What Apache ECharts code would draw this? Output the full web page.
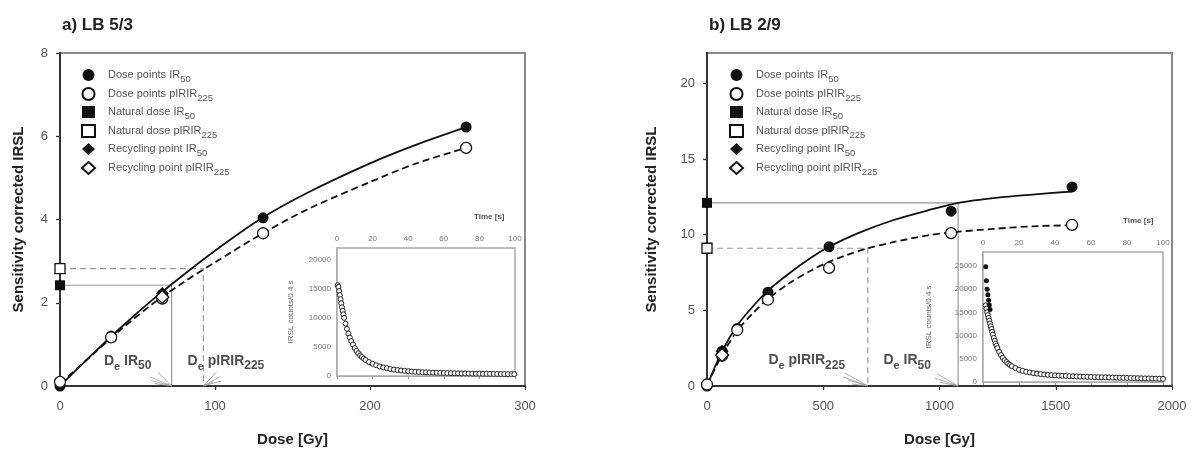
<!DOCTYPE html>
<html>
<head>
<meta charset="utf-8">
<script src="https://cdn.jsdelivr.net/npm/echarts@6/dist/echarts.min.js"></script>
<style>
  html, body { margin: 0; padding: 0; background: #fff; }
  #chart { width: 1197px; height: 453px; }
</style>
</head>
<body>
<div id="chart"></div>
<script>
const FONT = "'Liberation Sans', Arial, sans-serif";

// ---- a) LB 5/3 ----
const aDose = [0, 33, 66, 131, 262];
const aIR50 = [0, 1.2, 2.2, 4.04, 6.22];
const aPIR225 = [0.1, 1.17, 2.1, 3.67, 5.72];
const aNatIR50 = 2.42, aNatPIR225 = 2.82;
const aDeIR50 = 72, aDePIR225 = 92.5;
const aRecDose = 66, aRecIR50 = 2.22, aRecPIR225 = 2.14;
const aFitDose = [0, 20, 40, 60, 80, 100, 130, 160, 200, 230, 262];
const aFitIR50 = [0, 0.73, 1.43, 2.08, 2.68, 3.25, 4.03, 4.65, 5.35, 5.8, 6.22];
const aFitPIR225 = [0.05, 0.72, 1.38, 1.98, 2.5, 2.97, 3.65, 4.25, 4.9, 5.35, 5.72];

// inset a: shine-down curve
const aTime = [0.4, 0.8, 1.2, 1.6, 2.0, 2.4, 2.8, 3.2, 3.6, 4.0, 4.8, 5.6, 6.4, 7.2, 8.0, 9, 10, 11, 12, 13, 14, 15, 16, 18, 20, 22, 24, 26, 28,
  30, 32, 34, 36, 38, 40, 42, 44, 46, 48, 50, 52, 54, 56, 58, 60, 62, 64, 66, 68, 70, 72, 74, 76, 78, 80, 82, 84, 86, 88, 90, 92, 94, 96, 98, 99.6];
const aCounts = [15600, 15300, 14600, 13900, 13200, 12500, 11800, 11200, 10600, 10000, 9000, 8100, 7300, 6600, 6000, 5400, 4800, 4300, 3900, 3550, 3250, 3000, 2750, 2400, 2100, 1850, 1650, 1480, 1350,
  1200, 1100, 1020, 950, 880, 820, 770, 725, 690, 655, 625, 600, 575, 555, 535, 515, 500, 485, 470, 455, 440, 430, 420, 410, 400, 390, 380, 372, 364, 356, 348, 340, 333, 326, 320, 315];

// ---- b) LB 2/9 ----
const bDose = [0, 65, 130, 262, 525, 1050, 1570];
const bIR50 = [0, 2.3, 3.8, 6.2, 9.2, 11.55, 13.15];
const bPIR225 = [0.1, 2.0, 3.7, 5.7, 7.8, 10.1, 10.65];
const bNatIR50 = 12.1, bNatPIR225 = 9.1;
const bDeIR50 = 1080, bDePIR225 = 692;
const bRecDose = 65, bRecIR50 = 2.3, bRecPIR225 = 2.05;
const bFitDose = [0, 65, 130, 200, 262, 350, 450, 525, 650, 800, 950, 1080, 1250, 1400, 1570];
const bFitIR50 = [0, 2.3, 4.0, 5.3, 6.3, 7.4, 8.5, 9.2, 10.1, 10.95, 11.6, 12.1, 12.45, 12.65, 12.85];
const bFitPIR225Dose = [0, 65, 130, 200, 262, 350, 450, 525, 600, 692, 800, 950, 1050, 1250, 1400, 1570];
const bFitPIR225 = [0.05, 2.05, 3.65, 4.85, 5.75, 6.75, 7.65, 8.2, 8.65, 9.1, 9.5, 9.95, 10.15, 10.4, 10.55, 10.62];

// inset b
const bTimeIR50 = [1.5, 1.9, 2.3, 2.7, 3.1, 3.5, 3.9];
const bCountsIR50 = [24800, 21800, 20000, 18800, 17600, 16600, 15600];
const bTime = [1.5, 1.9, 2.3, 2.7, 3.1, 3.5, 3.9, 4.3, 4.7, 5.1, 5.5, 6.0, 6.5, 7.0, 7.5, 8.0, 9, 10, 11, 12, 13, 14, 15, 16, 18, 20, 22, 24, 26, 28,
  30, 32, 34, 36, 38, 40, 42, 44, 46, 48, 50, 52, 54, 56, 58, 60, 62, 64, 66, 68, 70, 72, 74, 76, 78, 80, 82, 84, 86, 88, 90, 92, 94, 96, 98, 100];
const bCounts = [16500, 15800, 15000, 14400, 13800, 13200, 12600, 12000, 11400, 10800, 10200, 9500, 8900, 8300, 7800, 7300, 6500, 5800, 5200, 4700, 4300, 3950, 3650, 3400, 3000, 2650, 2400, 2200, 2050, 1900,
  1800, 1700, 1620, 1550, 1490, 1430, 1380, 1340, 1300, 1260, 1230, 1200, 1170, 1140, 1110, 1090, 1060, 1040, 1020, 1000, 980, 960, 940, 920, 900, 880, 860, 840, 820, 800, 780, 760, 740, 720, 700, 680];

const legendNames = [
  ['Dose points IR', '50'], ['Dose points pIRIR', '225'],
  ['Natural dose IR', '50'], ['Natural dose pIRIR', '225'],
  ['Recycling point IR', '50'], ['Recycling point pIRIR', '225']
];

const zip = (xs, ys) => xs.map((x, i) => [x, ys[i]]);
const plain = v => String(v);

const filled = { color: '#111', opacity: 1 };
const hollow = { color: '#fff', borderColor: '#111', borderWidth: 1.3, opacity: 1 };

const pointSeries = (p, axis, d) => [
  { name: p + '|0', type: 'scatter', xAxisIndex: axis, yAxisIndex: axis, symbol: 'circle', symbolSize: 11, itemStyle: filled, data: zip(d.dose, d.ir), z: 5 },
  { name: p + '|1', type: 'scatter', xAxisIndex: axis, yAxisIndex: axis, symbol: 'circle', symbolSize: 11, itemStyle: hollow, data: zip(d.dose, d.pir), z: 6 },
  { name: p + '|2', type: 'scatter', xAxisIndex: axis, yAxisIndex: axis, symbol: 'rect', symbolSize: 10, itemStyle: filled, data: [[0, d.natIR]], z: 5 },
  { name: p + '|3', type: 'scatter', xAxisIndex: axis, yAxisIndex: axis, symbol: 'rect', symbolSize: 10, itemStyle: hollow, data: [[0, d.natPIR]], z: 5 },
  { name: p + '|4', type: 'scatter', xAxisIndex: axis, yAxisIndex: axis, symbol: 'diamond', symbolSize: 13, itemStyle: filled, data: [[d.recDose, d.recIR]], z: 5 },
  { name: p + '|5', type: 'scatter', xAxisIndex: axis, yAxisIndex: axis, symbol: 'diamond', symbolSize: 13, itemStyle: hollow, data: [[d.recDose, d.recPIR]], z: 6 }
];

const fitLine = (axis, data, dashed) => ({
  type: 'line', xAxisIndex: axis, yAxisIndex: axis, data, smooth: 0.3, symbol: 'none', silent: true, z: 3,
  lineStyle: { color: '#111', width: 1.8, type: dashed ? [7, 4] : 'solid' }
});

const refLine = (axis, y, x, dashed) => ({
  type: 'line', xAxisIndex: axis, yAxisIndex: axis, data: [[0, y], [x, y], [x, 0]], symbol: 'none', silent: true, z: 2,
  lineStyle: { color: '#999', width: 1.2, type: dashed ? [6, 4] : 'solid' }
});

const fan = (axis, target, srcs) => ({
  type: 'lines', coordinateSystem: 'cartesian2d', xAxisIndex: axis, yAxisIndex: axis, silent: true, z: 2,
  lineStyle: { color: '#999', width: 0.8, opacity: 1 },
  data: srcs.map(s => ({ coords: [s, [target, 0]] }))
});

const deRich = {
  d: { fontSize: 14, fontWeight: 'bold', color: '#222', fontFamily: FONT, lineHeight: 22 },
  e: { fontSize: 11, fontWeight: 'bold', color: '#222', fontFamily: FONT, verticalAlign: 'bottom', lineHeight: 12 },
  s: { fontSize: 12, fontWeight: 'bold', color: '#222', fontFamily: FONT, verticalAlign: 'bottom', lineHeight: 12 }
};
const deLabel = (axis, pts, texts) => ({
  type: 'scatter', xAxisIndex: axis, yAxisIndex: axis, symbolSize: 1, itemStyle: { color: 'rgba(0,0,0,0)' }, silent: true,
  data: pts.map((p, i) => ({ value: p, label: { show: true, position: 'right', distance: 0, formatter: texts[i], rich: deRich } }))
});

const mainX = (grid, max, interval) => ({
  gridIndex: grid, type: 'value', min: 0, max, interval,
  name: 'Dose [Gy]', nameLocation: 'middle', nameGap: 46,
  nameTextStyle: { fontSize: 15, fontWeight: 'bold', color: '#222', fontFamily: FONT },
  axisLine: { show: true, lineStyle: { color: '#333', width: 2 } },
  axisTick: { show: true, length: 4, lineStyle: { color: '#333', width: 1.3 } },
  axisLabel: { color: '#555', fontSize: 13, fontFamily: FONT, margin: 14, formatter: plain },
  splitLine: { show: false }
});
const mainY = (grid, max, interval, gap) => ({
  gridIndex: grid, type: 'value', min: 0, max, interval,
  name: 'Sensitivity corrected IRSL', nameLocation: 'middle', nameGap: gap,
  nameTextStyle: { fontSize: 15, fontWeight: 'bold', color: '#222', fontFamily: FONT },
  axisLine: { show: true, lineStyle: { color: '#333', width: 2 } },
  axisTick: { show: true, length: 4, lineStyle: { color: '#333', width: 1.3 } },
  axisLabel: { color: '#555', fontSize: 13, fontFamily: FONT, margin: 12, showMaxLabel: max === 8, formatter: plain },
  splitLine: { show: false }
});
const insetX = (grid) => ({
  gridIndex: grid, type: 'value', position: 'top', min: 0, max: 100, interval: 20,
  axisLine: { show: true, lineStyle: { color: '#999', width: 1.5 } },
  axisTick: { show: true, inside: true, length: 3, lineStyle: { color: '#999' } },
  axisLabel: { color: '#777', fontSize: 8, fontFamily: FONT, margin: 5, formatter: plain },
  splitLine: { show: false }
});
const insetY = (grid, max, gap) => ({
  gridIndex: grid, type: 'value', min: 0, max, interval: 5000,
  name: 'IRSL counts/0.4 s', nameLocation: 'middle', nameGap: gap,
  nameTextStyle: { fontSize: 8, color: '#666', fontFamily: FONT },
  axisLine: { show: true, lineStyle: { color: '#999', width: 1.5 } },
  axisTick: { show: true, inside: true, length: 3, lineStyle: { color: '#999' } },
  axisLabel: { color: '#777', fontSize: 8, fontFamily: FONT, margin: 6, showMaxLabel: false, formatter: plain },
  splitLine: { show: false }
});

const legendFor = (p, left) => ({
  left, top: 64, orient: 'vertical', itemGap: 3, itemWidth: 13, itemHeight: 12,
  selectedMode: false,
  data: legendNames.map((_, i) => p + '|' + i),
  formatter: n => {
    const l = legendNames[+n.split('|')[1]];
    return '{t|' + l[0] + '}{s|' + l[1] + '}';
  },
  textStyle: {
    rich: {
      t: { fontSize: 11, color: '#555', fontFamily: FONT, lineHeight: 18, padding: [0, 0, 0, 8] },
      s: { fontSize: 9.5, color: '#555', fontFamily: FONT, verticalAlign: 'bottom', lineHeight: 10 }
    }
  }
});

const chart = echarts.init(document.getElementById('chart'));

chart.setOption({
  backgroundColor: '#fff',
  animation: false,
  title: [
    { text: 'a) LB 5/3', left: 57, top: 12, textStyle: { fontSize: 17, fontWeight: 'bold', color: '#222', fontFamily: FONT } },
    { text: 'b) LB 2/9', left: 704, top: 12, textStyle: { fontSize: 17, fontWeight: 'bold', color: '#222', fontFamily: FONT } }
  ],
  legend: [legendFor('a', 76), legendFor('b', 724)],
  grid: [
    { left: 60, top: 53, width: 465, height: 333, show: true, borderColor: '#888', borderWidth: 2, backgroundColor: '#fff' },
    { left: 337, top: 248, width: 178, height: 128, show: true, borderColor: '#aaa', borderWidth: 1.5, backgroundColor: '#fff', z: 10 },
    { left: 707, top: 53, width: 465, height: 333, show: true, borderColor: '#888', borderWidth: 2, backgroundColor: '#fff' },
    { left: 983, top: 252, width: 180, height: 130, show: true, borderColor: '#aaa', borderWidth: 1.5, backgroundColor: '#fff', z: 10 }
  ],
  xAxis: [mainX(0, 300, 100), insetX(1), mainX(2, 2000, 500), insetX(3)],
  yAxis: [mainY(0, 8, 2, 34), insetY(1, 22000, 42), mainY(2, 22, 5, 48), insetY(3, 28000, 50)],
  graphic: [
    { type: 'text', left: 474, top: 213, style: { text: 'Time [s]', font: 'bold 8px ' + FONT, fill: '#555' } },
    { type: 'text', left: 1123, top: 217, style: { text: 'Time [s]', font: 'bold 8px ' + FONT, fill: '#555' } }
  ],
  series: [
    // a
    refLine(0, aNatIR50, aDeIR50, false),
    refLine(0, aNatPIR225, aDePIR225, true),
    fan(0, aDeIR50, [[58, 0.22], [59, 0.13], [61, 0.06], [63, 0.34]]),
    fan(0, aDePIR225, [[103, 0.22], [101, 0.34], [99, 0.1], [104, 0.12]]),
    fitLine(0, zip(aFitDose, aFitIR50), false),
    fitLine(0, zip(aFitDose, aFitPIR225), true),
    ...pointSeries('a', 0, { dose: aDose, ir: aIR50, pir: aPIR225, natIR: aNatIR50, natPIR: aNatPIR225, recDose: aRecDose, recIR: aRecIR50, recPIR: aRecPIR225 }),
    deLabel(0, [[28, 0.6], [82, 0.6]], ['{d|D}{e|e}{d| IR}{s|50}', '{d|D}{e|e}{d| pIRIR}{s|225}']),
    {
      type: 'scatter', xAxisIndex: 1, yAxisIndex: 1, symbol: 'circle', symbolSize: 5, z: 12,
      itemStyle: { color: '#fff', borderColor: '#222', borderWidth: 1, opacity: 1 }, data: zip(aTime, aCounts)
    },
    // b
    refLine(2, bNatIR50, bDeIR50, false),
    refLine(2, bNatPIR225, bDePIR225, true),
    fan(2, bDePIR225, [[585, 0.6], [606, 0.4], [623, 0.13], [593, 0.86]]),
    fan(2, bDeIR50, [[978, 0.53], [991, 0.79], [1000, 0.26]]),
    fitLine(2, zip(bFitDose, bFitIR50), false),
    fitLine(2, zip(bFitPIR225Dose, bFitPIR225), true),
    ...pointSeries('b', 2, { dose: bDose, ir: bIR50, pir: bPIR225, natIR: bNatIR50, natPIR: bNatPIR225, recDose: bRecDose, recIR: bRecIR50, recPIR: bRecPIR225 }),
    deLabel(2, [[262, 1.7], [757, 1.7]], ['{d|D}{e|e}{d| pIRIR}{s|225}', '{d|D}{e|e}{d| IR}{s|50}']),
    {
      type: 'scatter', xAxisIndex: 3, yAxisIndex: 3, symbol: 'circle', symbolSize: 5, z: 12,
      itemStyle: { color: '#fff', borderColor: '#222', borderWidth: 1, opacity: 1 }, data: zip(bTime, bCounts)
    },
    {
      type: 'scatter', xAxisIndex: 3, yAxisIndex: 3, symbol: 'circle', symbolSize: 5, z: 13,
      itemStyle: { color: '#111', opacity: 1 }, data: zip(bTimeIR50, bCountsIR50)
    }
  ]
});
</script>
</body>
</html>
